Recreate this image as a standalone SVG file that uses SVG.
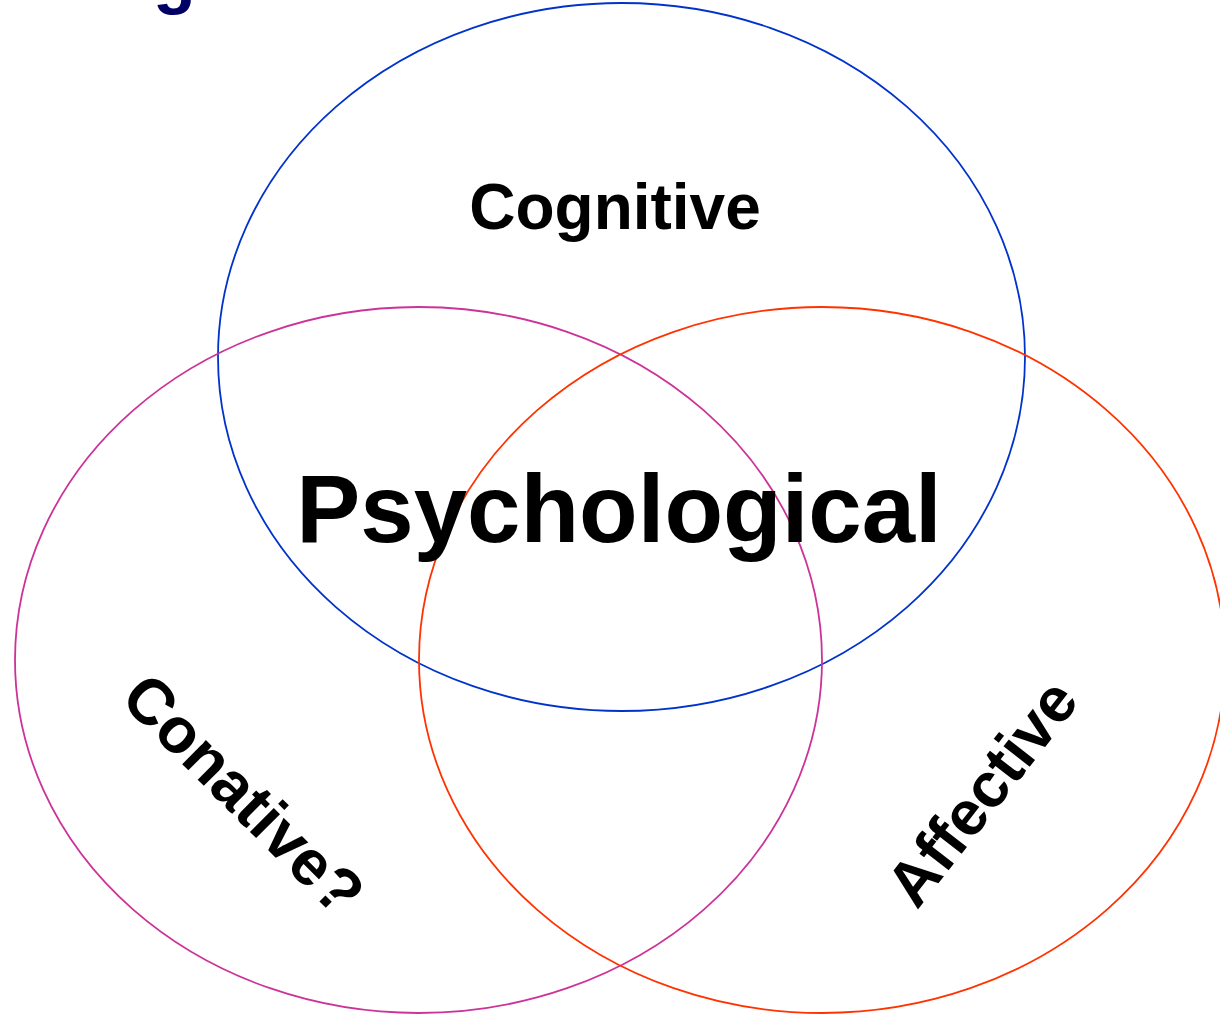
<svg xmlns="http://www.w3.org/2000/svg" width="1220" height="1016" viewBox="0 0 1220 1016">
<style>
.ring{fill:none;stroke-width:1.8}
.lbl{font-family:"Liberation Sans",Arial,sans-serif;font-weight:bold;fill:#000;text-anchor:middle}
</style>
<rect width="1220" height="1016" fill="#fff"/>
<text x="153" y="0" style="font-family:'Liberation Sans',Arial,sans-serif;font-weight:bold;font-size:70px;fill:#000066">g</text>
<g id="cognitive">
<ellipse class="ring" cx="621.5" cy="357" rx="403.5" ry="354" stroke="#0033CC"/>
<text class="lbl" x="615" y="229" font-size="64">Cognitive</text>
</g>
<g id="conative">
<ellipse class="ring" cx="418.5" cy="660" rx="403.5" ry="353" stroke="#CC3399"/>
<text class="lbl" font-size="64" transform="translate(228,810) rotate(45)">Conative?</text>
</g>
<g id="affective">
<ellipse class="ring" cx="822" cy="660" rx="403" ry="353" stroke="#FF3300"/>
<text class="lbl" font-size="63" transform="translate(999,806) rotate(-52)">Affective</text>
</g>
<g id="psychological">
<text class="lbl" x="619" y="542" font-size="96">Psychological</text>
</g>
<g id="connectors"/>
</svg>
